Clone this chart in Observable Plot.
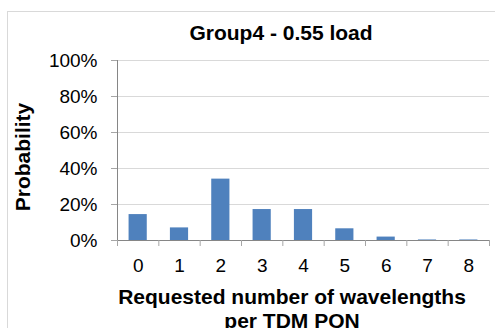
<!DOCTYPE html>
<html>
<head>
<meta charset="utf-8">
<script src="https://cdn.jsdelivr.net/npm/d3@7"></script>
<script src="https://cdn.jsdelivr.net/npm/@observablehq/plot@0.6"></script>
<style>
  html, body { margin: 0; padding: 0; background: #fff; }
  #wrap { position: relative; width: 495px; height: 328px; overflow: hidden; font-family: "Liberation Sans", Arial, sans-serif; }
  #border { position: absolute; left: 7px; top: 11px; width: 600px; height: 400px; border: 1px solid #d9d9d9; box-sizing: border-box; }
  #chart { position: absolute; left: 0; top: 0; }
  .lbl { position: absolute; font-weight: bold; color: #000; white-space: nowrap; }
</style>
</head>
<body>
<div id="wrap">
  <div id="border"></div>
  <div id="chart"></div>
  <div class="lbl" id="title" style="left:0; width:562px; top:22px; font-size:21px; line-height:21px; text-align:center;">Group4 - 0.55 load</div>
  <div class="lbl" id="xtitle" style="left:0; width:584px; top:285px; font-size:21px; line-height:24px; text-align:center;">Requested number of wavelengths<br>per TDM PON</div>
  <div class="lbl" id="ytitle" style="left:22px; top:157px; font-size:21px; line-height:21px; transform: translate(-50%,-50%) rotate(-90deg);">Probability</div>
</div>
<script>
const categories = ["0", "1", "2", "3", "4", "5", "6", "7", "8"];
const probabilities = [0.144, 0.070, 0.341, 0.172, 0.172, 0.065, 0.019, 0.003, 0.003];
const yTicks = [0, 0.2, 0.4, 0.6, 0.8, 1.0];

const data = categories.map((c, i) => ({i, c, p: probabilities[i]}));
const boundaries = d3.range(categories.length + 1).map(k => k - 0.5);

const chart = Plot.plot({
  width: 495,
  height: 328,
  marginLeft: 117,
  marginRight: 6,
  marginTop: 60,
  marginBottom: 88,
  style: {fontFamily: '"Liberation Sans", Arial, sans-serif', background: "transparent", color: "#000"},
  x: {type: "linear", domain: [-0.5, categories.length - 0.5], axis: null},
  y: {domain: [0, 1], axis: null},
  marks: [
    Plot.gridY(yTicks, {stroke: "#d9d9d9", strokeOpacity: 1}),
    Plot.axisY({ticks: yTicks, tickSize: 6, tickPadding: 14, fontSize: 19, tickFormat: d3.format(".0%"), stroke: "#a6a6a6", fill: "#000", label: null}),
    Plot.rectY(data, {x1: d => d.i - 0.22, x2: d => d.i + 0.22, y: "p", fill: "#4f81bd"}),
    Plot.ruleX([-0.5], {stroke: "#868686"}),
    Plot.ruleY([0], {stroke: "#868686"}),
    Plot.axisX({ticks: boundaries, tickSize: 6, tickFormat: () => "", stroke: "#a6a6a6", label: null}),
    Plot.axisX({ticks: d3.range(categories.length), tickSize: 0, tickPadding: 18, fontSize: 19, tickFormat: i => categories[i], fill: "#000", label: null})
  ]
});
document.getElementById("chart").appendChild(chart);
</script>
</body>
</html>
